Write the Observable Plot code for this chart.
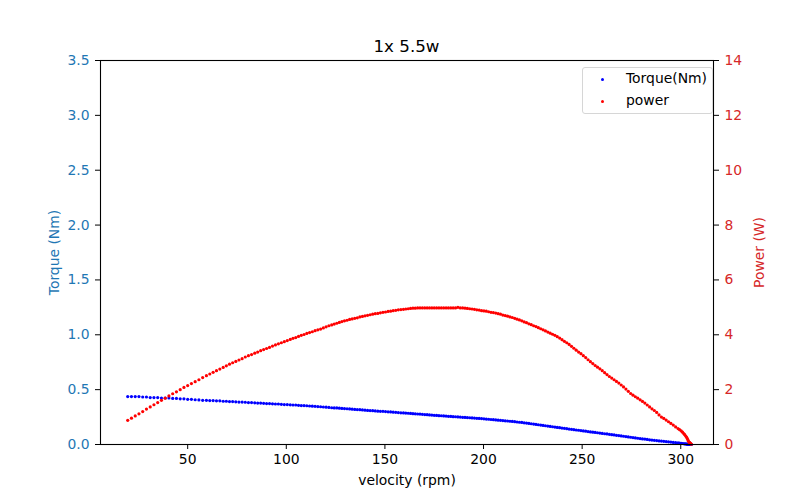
<!DOCTYPE html>
<html>
<head>
<meta charset="utf-8">
<script src="https://cdn.jsdelivr.net/npm/d3@7"></script>
<script src="https://cdn.jsdelivr.net/npm/@observablehq/plot@0.6"></script>
<style>
  body { margin: 0; background: white; font-family: "DejaVu Sans", sans-serif; }
  #wrap { position: relative; width: 800px; height: 500px; }
  #title { position: absolute; left: 100px; width: 613px; top: 36px; text-align: center;
           font-size: 16.7px; line-height: 20px; color: black; }
  #legend { position: absolute; left: 582px; top: 67px; width: 129px; height: 45px;
            border: 1px solid #d6d6d6; border-radius: 3px; background: rgba(255,255,255,0.8);
            font-size: 13.9px; color: black; }
  .li { position: absolute; left: 43px; line-height: 16px; }
  .mk { position: absolute; width: 3px; height: 3px; border-radius: 50%; }
</style>
</head>
<body>
<div id="wrap">
  <div id="chart"></div>
  <div id="title">1x 5.5w</div>
  <div id="legend">
    <span class="mk" style="left:18px;top:10px;background:#0000ff"></span>
    <span class="li" style="top:2px">Torque(Nm)</span>
    <span class="mk" style="left:18px;top:32px;background:#ff0000"></span>
    <span class="li" style="top:24px">power</span>
  </div>
</div>
<script>
// velocity (rpm)
const velocity = [
  19.6,21.5,23.4,25.3,27.2,29.1,31.0,32.9,34.8,36.7,
  38.6,40.5,42.4,44.3,46.2,48.1,50.0,51.9,53.8,55.7,
  57.6,59.5,
  61.2,62.9,64.6,66.3,68.0,69.6,71.2,72.8,74.4,76.0,
  77.6,79.2,80.8,82.4,84.0,85.5,87.0,88.5,90.0,91.5,
  93.0,94.5,96.0,97.5,99.0,100.5,102.0,103.4,104.8,106.2,
  107.6,109.0,110.4,111.8,113.2,114.6,116.0,117.4,118.8,120.2,
  121.6,123.0,124.3,125.6,126.9,128.2,129.5,130.8,132.1,133.4,
  134.7,136.0,137.3,138.6,139.9,141.2,142.5,143.8,145.1,146.4,
  147.7,149.0,150.3,151.6,152.9,154.2,155.5,156.8,158.1,159.4,
  160.6,161.8,163.0,164.2,165.4,166.6,167.8,169.0,170.2,171.4,
  172.6,173.8,175.0,176.2,177.4,178.6,179.8,181.0,182.2,183.4,
  184.6,185.8,187.0,188.2,189.4,190.6,191.8,193.0,194.2,195.4,
  196.6,197.8,199.0,200.2,201.4,202.6,203.8,205.0,206.2,207.4,
  208.6,209.8,211.0,212.2,213.4,214.6,215.8,217.0,218.2,219.4,
  220.6,221.8,223.0,224.2,225.4,226.6,227.8,229.0,230.2,231.4,
  232.6,233.8,235.0,236.2,237.4,238.6,239.8,241.0,242.2,243.4,
  244.6,245.8,247.0,248.2,249.4,250.6,251.8,253.0,254.2,255.4,
  256.6,257.8,259.0,260.2,261.4,262.6,263.8,265.0,266.2,267.4,
  268.6,269.8,271.0,272.2,273.4,274.6,275.8,277.0,278.2,279.4,
  280.6,281.8,283.0,284.2,285.4,286.6,287.8,289.0,290.2,291.4,
  292.6,293.8,295.0,296.2,297.4,298.6,
  299.4,300.2,300.9,301.5,302.0,302.5,302.9,303.3,303.6,303.9,
  304.2,304.5,304.8,305.1,305.4
];
// torque (Nm)
const torque = [
  .437,.437,.437,.437,.433,.433,.428,.428,.428,.424,
  .424,.424,.420,.420,.416,.416,.412,.412,.408,.406,
  .403,.403,
  .400,.400,.398,.398,.394,.394,.391,.391,.389,.387,
  .387,.385,.382,.382,.380,.378,.378,.375,.373,.373,
  .371,.369,.369,.366,.364,.364,.362,.360,.360,.357,
  .355,.355,.353,.351,.349,.348,.346,.344,.342,.340,
  .338,.335,.333,.333,.331,.329,.327,.326,.324,.322,
  .320,.318,.317,.315,.313,.311,.309,.308,.306,.304,
  .302,.302,.300,.298,.297,.295,.293,.291,.289,.288,
  .286,.285,.283,.281,.280,.278,.277,.275,.273,.272,
  .270,.268,.266,.265,.263,.262,.260,.259,.257,.256,
  .254,.253,.251,.250,.248,.247,.245,.244,.242,.241,
  .239,.238,.236,.234,.232,.230,.228,.226,.224,.222,
  .220,.218,.216,.214,.212,.210,.208,.205,.203,.201,
  .198,.195,.192,.189,.186,.183,.180,.177,.174,.171,
  .168,.165,.162,.159,.156,.153,.150,.147,.144,.141,
  .138,.135,.132,.130,.127,.124,.121,.118,.115,.112,
  .110,.107,.104,.101,.098,.096,.093,.090,.087,.084,
  .081,.078,.075,.072,.069,.066,.063,.060,.057,.054,
  .051,.049,.046,.043,.040,.038,.036,.033,.031,.029,
  .027,.024,.022,.019,.017,.014,
  .012,.010,.009,.007,.006,.005,.004,.003,.002,.001,
  0,0,0,0,0
];
// power (W)
const power = [
  .88,.96,1.04,1.12,1.20,1.29,1.37,1.45,1.53,1.61,
  1.69,1.77,1.85,1.92,2.00,2.08,2.15,2.22,2.29,2.36,
  2.44,2.51,
  2.57,2.63,2.69,2.75,2.81,2.87,2.93,2.98,3.03,3.08,
  3.13,3.19,3.24,3.28,3.33,3.37,3.42,3.46,3.50,3.54,
  3.59,3.63,3.67,3.71,3.75,3.79,3.83,3.87,3.90,3.94,
  3.98,4.01,4.05,4.08,4.11,4.15,4.18,4.21,4.25,4.29,
  4.33,4.36,4.39,4.42,4.45,4.48,4.51,4.53,4.56,4.58,
  4.60,4.62,4.65,4.67,4.69,4.71,4.73,4.75,4.77,4.78,
  4.80,4.82,4.83,4.85,4.86,4.88,4.89,4.91,4.92,4.93,
  4.94,4.95,4.96,4.97,4.97,4.98,4.98,4.98,4.98,4.98,
  4.98,4.98,4.98,4.98,4.98,4.98,4.98,4.98,4.98,4.98,
  4.98,4.98,5.00,4.98,4.98,4.97,4.96,4.95,4.94,4.93,
  4.91,4.90,4.88,4.87,4.86,4.84,4.82,4.81,4.79,4.77,
  4.75,4.72,4.70,4.68,4.65,4.63,4.60,4.57,4.54,4.51,
  4.47,4.44,4.40,4.37,4.33,4.30,4.26,4.22,4.18,4.14,
  4.10,4.06,4.02,3.98,3.93,3.88,3.82,3.76,3.71,3.65,
  3.58,3.51,3.44,3.37,3.31,3.24,3.17,3.09,3.02,2.95,
  2.88,2.82,2.76,2.69,2.62,2.55,2.48,2.42,2.36,2.30,
  2.24,2.17,2.10,2.02,1.94,1.86,1.80,1.74,1.69,1.63,
  1.57,1.51,1.44,1.37,1.30,1.24,1.17,1.08,1.00,0.95,
  0.89,0.83,0.77,0.71,0.64,0.58,
  0.54,0.50,0.45,0.40,0.36,0.31,0.27,0.22,0.17,0.12,
  0.09,0.07,0.05,0.03,0.01
];

const xTicks = [50, 100, 150, 200, 250, 300];
const torqueTicks = [0, 0.5, 1.0, 1.5, 2.0, 2.5, 3.0, 3.5];
const powerTicks = [0, 2, 4, 6, 8, 10, 12, 14];
const torqueMax = 3.5, powerMax = 14;
const ratio = powerMax / torqueMax;

const rows = velocity.map((v, i) => ({v, t: torque[i], p: power[i]}));

const blueAxis = "#1f77b4", redAxis = "#d62728";

const chart = Plot.plot({
  width: 800,
  height: 500,
  marginTop: 60,
  marginRight: 87,
  marginBottom: 56,
  marginLeft: 100,
  style: {fontFamily: "DejaVu Sans, sans-serif", fontSize: "13.9px", background: "white", overflow: "visible"},
  x: {domain: [5.8, 316.6]},
  y: {domain: [0, torqueMax]},
  marks: [
    Plot.dot(rows, {x: "v", y: "t", r: 1.6, fill: "#0000ff", stroke: "none"}),
    Plot.dot(rows, {x: "v", y: d => d.p / ratio, r: 1.6, fill: "#ff0000", stroke: "none"}),
    Plot.frame({stroke: "black", strokeWidth: 1.1}),
    Plot.axisX(xTicks, {anchor: "bottom", tickSize: 5, tickPadding: 5, stroke: "black", fill: "black", label: null}),
    Plot.axisY(torqueTicks, {anchor: "left", tickSize: 5, tickPadding: 6, stroke: "black", fill: blueAxis, tickFormat: d3.format(".1f"), label: null}),
    Plot.axisY(powerTicks.map(p => p / ratio), {anchor: "right", tickSize: 5, tickPadding: 6, stroke: "black", fill: redAxis, tickFormat: d => String(Math.round(d * ratio)), label: null}),
    Plot.text(["velocity (rpm)"], {frameAnchor: "bottom", dy: 36, lineAnchor: "middle", fill: "black"}),
    Plot.text(["Torque (Nm)"], {frameAnchor: "left", dx: -46, rotate: -90, textAnchor: "middle", lineAnchor: "middle", fill: blueAxis}),
    Plot.text(["Power (W)"], {frameAnchor: "right", dx: 46, rotate: -90, textAnchor: "middle", lineAnchor: "middle", fill: redAxis})
  ]
});
document.getElementById("chart").appendChild(chart);
</script>
</body>
</html>
